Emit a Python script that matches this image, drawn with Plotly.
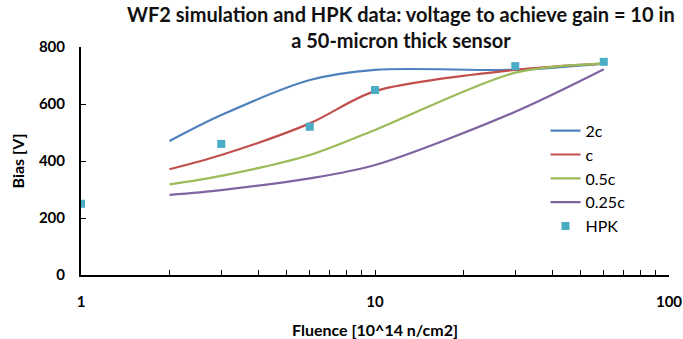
import plotly.graph_objects as go

fluence = [2, 3, 6, 10, 30, 60]
bias_2c = [470, 561, 684, 720, 720, 742]
bias_c = [371, 421, 532, 645, 720, 742]
bias_05c = [318, 348, 421, 509, 710, 742]
bias_025c = [281, 298, 339, 386, 573, 722]

hpk_fluence = [1, 3, 6, 10, 30, 60]
hpk_bias = [250, 460, 520, 649, 733, 748]

series = [
    ("2c", bias_2c, "#4F81BD"),
    ("c", bias_c, "#C0504D"),
    ("0.5c", bias_05c, "#9BBB59"),
    ("0.25c", bias_025c, "#8064A2"),
]

FONT = "Lato"
fig = go.Figure()
for name, ys, col in series:
    fig.add_trace(go.Scatter(x=fluence, y=ys, mode="lines", name=name,
                             line=dict(color=col, width=2.2, shape="spline", smoothing=0.85)))
fig.add_trace(go.Scatter(x=hpk_fluence, y=hpk_bias, mode="markers", name="HPK",
                         marker=dict(symbol="square", size=8, color="#4BACC6")))

fig.update_layout(
    width=683, height=339,
    margin=dict(l=81, r=14, t=47, b=64, autoexpand=False),
    paper_bgcolor="white", plot_bgcolor="white",
    font=dict(family=FONT, color="black", size=15),
    title=dict(text="<b>WF2 simulation and HPK data: voltage to achieve gain = 10 in<br>a 50-micron thick sensor</b>",
               x=0.587, xanchor="center", yref="container", y=0.936, yanchor="top",
               font=dict(family=FONT, size=20, color="#111")),
    showlegend=True,
    legend=dict(x=0.79, y=0.707, xanchor="left", yanchor="top",
                bgcolor="rgba(0,0,0,0)", font=dict(family=FONT, size=16, color="black"),
                itemwidth=30, tracegroupgap=0),
)
fig.update_xaxes(type="log", range=[0, 2], showgrid=False, zeroline=False, automargin=False,
                 showline=True, linecolor="black", linewidth=2,
                 ticks="inside", ticklen=5, tickwidth=1.3, tickcolor="black",
                 tickvals=[1, 10, 100], ticktext=["<b>1</b>", "<b>10</b>", "<b>100</b>"],
                 minor=dict(ticks="inside", ticklen=5, tickwidth=1.3, tickcolor="black",
                            tickvals=[2, 3, 4, 5, 6, 7, 8, 9, 20, 30, 40, 50, 60, 70, 80, 90]),
                 tickfont=dict(size=15, family=FONT), ticklabelstandoff=12,
                 title=dict(text="<b>Fluence [10^14 n/cm2]</b>", font=dict(size=16, family=FONT), standoff=16))
fig.update_yaxes(range=[0, 800], showgrid=False, zeroline=False, automargin=False,
                 showline=True, linecolor="black", linewidth=2,
                 ticks="inside", ticklen=5, tickwidth=1.3, tickcolor="black",
                 tickvals=[0, 200, 400, 600, 800],
                 ticktext=["<b>0</b>", "<b>200</b>", "<b>400</b>", "<b>600</b>", "<b>800</b>"],
                 tickfont=dict(size=15, family=FONT), ticklabelstandoff=11,
                 title=dict(text="<b>Bias [V]</b>", font=dict(size=16, family=FONT), standoff=10))

fig.write_html("out.html", config={"displayModeBar": False},
               post_script="document.body.style.margin='0';document.body.style.overflow='hidden';")
